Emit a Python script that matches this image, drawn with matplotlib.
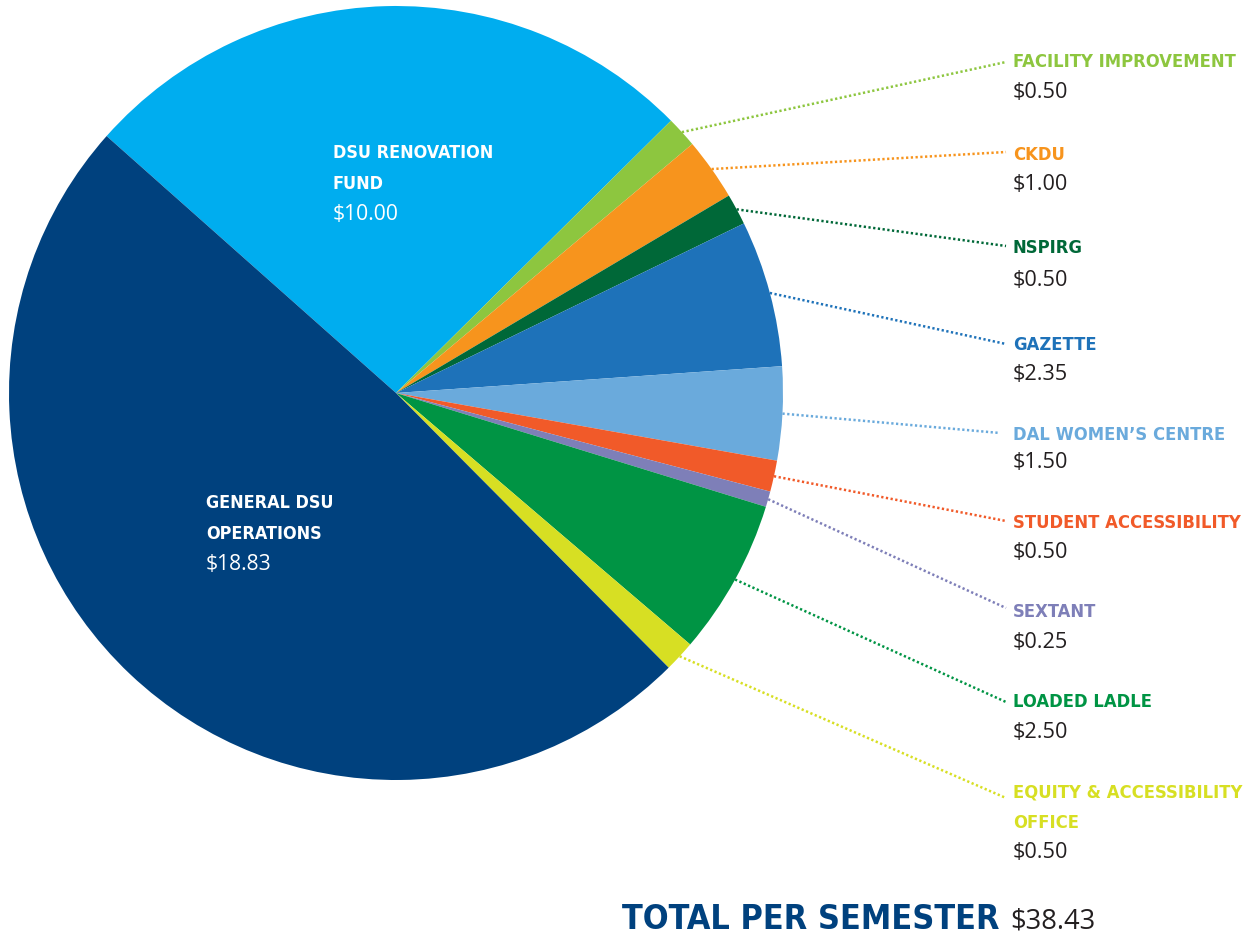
import numpy as np
import matplotlib
matplotlib.use("Agg")
import matplotlib.pyplot as plt
from matplotlib import font_manager as fm

# ---- data ----
categories = ["DSU RENOVATION\nFUND", "FACILITY IMPROVEMENT", "CKDU", "NSPIRG", "GAZETTE",
              "DAL WOMEN\u2019S CENTRE", "STUDENT ACCESSIBILITY", "SEXTANT", "LOADED LADLE",
              "EQUITY & ACCESSIBILITY\nOFFICE", "GENERAL DSU\nOPERATIONS"]
values = [10.00, 0.50, 1.00, 0.50, 2.35, 1.50, 0.50, 0.25, 2.50, 0.50, 18.83]
value_labels = ["$10.00", "$0.50", "$1.00", "$0.50", "$2.35", "$1.50", "$0.50", "$0.25",
                "$2.50", "$0.50", "$18.83"]
colors = ["#00adef", "#8dc63f", "#f7941d", "#006838", "#1e72b9", "#6aaadc", "#f15a29",
          "#7e7fb8", "#009444", "#d7df23", "#00417e"]
total_title = "TOTAL PER SEMESTER"
total_label = "$38.43"

W, H = 1247, 936
fig = plt.figure(figsize=(W / 100, H / 100), dpi=100)
ax = fig.add_axes([0, 0, 1, 1])
renderer = fig.canvas.get_renderer()


def Y(y):
    return H - y


# ---- pick a condensed bold font if one is installed ----
bold_fp = None
for f in fm.fontManager.ttflist:
    n = (f.fname + " " + f.name).lower()
    if ("condensed" in n or "narrow" in n) and f.weight in (600, 700, "bold", "semibold") \
            and "oblique" not in n and "italic" not in n and "mono" not in n \
            and "serif" not in n.replace("sans", ""):
        bold_fp = fm.FontProperties(fname=f.fname)
        break
if bold_fp is None:
    bold_fp = fm.FontProperties(family=["Roboto", "DejaVu Sans"], weight="bold")
reg_fp = fm.FontProperties(family=["Open Sans", "DejaVu Sans"])


def fit_size(text, fp, width_px):
    t = fig.text(0, 0, text, fontproperties=fp, fontsize=20)
    w = t.get_window_extent(renderer).width
    t.remove()
    return 20 * width_px / w


title_fs = min(fit_size("FACILITY IMPROVEMENT", bold_fp, 226),
               fit_size("EQUITY & ACCESSIBILITY", bold_fp, 228),
               fit_size("STUDENT ACCESSIBILITY", bold_fp, 228))
inside_fs = fit_size("DSU RENOVATION", bold_fp, 160)
value_fs = fit_size("$0.50", reg_fp, 55)
inside_val_fs = fit_size("$10.00", reg_fp, 66)
total_fs = fit_size(total_title, bold_fp, 337) * 1.12
total_val_fs = fit_size(total_label, reg_fp, 85)

cx, cy, R = 396, 393, 387
wedges, _ = ax.pie(values, colors=colors, startangle=138.4, counterclock=False,
                   center=(cx, Y(cy)), radius=R, wedgeprops=dict(linewidth=0))
ax.set_xlim(0, W)
ax.set_ylim(0, H)
ax.set_aspect("equal")
ax.axis("off")

# outside labels: index -> (title y, value y, line end y)
outside = {1: (62, 92, 62), 2: (155, 185, 152), 3: (248, 280, 246), 4: (345, 375, 344),
           5: (435, 463, 433), 6: (523, 553, 521), 7: (612, 642, 608), 8: (702, 732, 702),
           9: (793, 853, 798)}
line_end_x = {5: 1000}
tx = 1013
for i, (ty, vy, ly) in outside.items():
    w = wedges[i]
    ang = np.deg2rad((w.theta1 + w.theta2) / 2)
    x0 = cx + R * np.cos(ang)
    y0 = Y(cy) + R * np.sin(ang)
    ax.plot([x0, line_end_x.get(i, 1006)], [y0, Y(ly)], color=colors[i], lw=1.8,
            linestyle=(0, (0.9, 1.0)), solid_capstyle="butt")
    for k, t in enumerate(categories[i].split("\n")):
        ax.text(tx, Y(ty + 30 * k), t, color=colors[i], fontproperties=bold_fp,
                fontsize=title_fs, ha="left", va="center")
    ax.text(tx, Y(vy), value_labels[i], color="#231f20", fontproperties=reg_fp,
            fontsize=value_fs, ha="left", va="center")

# inside labels
for i, (x, y1) in {0: (333, 153), 10: (206, 503)}.items():
    for k, t in enumerate(categories[i].split("\n")):
        ax.text(x, Y(y1 + 31 * k), t, color="white", fontproperties=bold_fp,
                fontsize=inside_fs, ha="left", va="center")
    ax.text(x, Y(y1 + 62), value_labels[i], color="white", fontproperties=reg_fp,
            fontsize=inside_val_fs, ha="left", va="center")

ax.text(1000, Y(929), total_title, color="#00417e", fontproperties=bold_fp,
        fontsize=total_fs, ha="right", va="baseline")
ax.text(1010, Y(928), total_label, color="#231f20", fontproperties=reg_fp,
        fontsize=total_val_fs, ha="left", va="baseline")

fig.savefig("out.png", dpi=100, facecolor="white")
